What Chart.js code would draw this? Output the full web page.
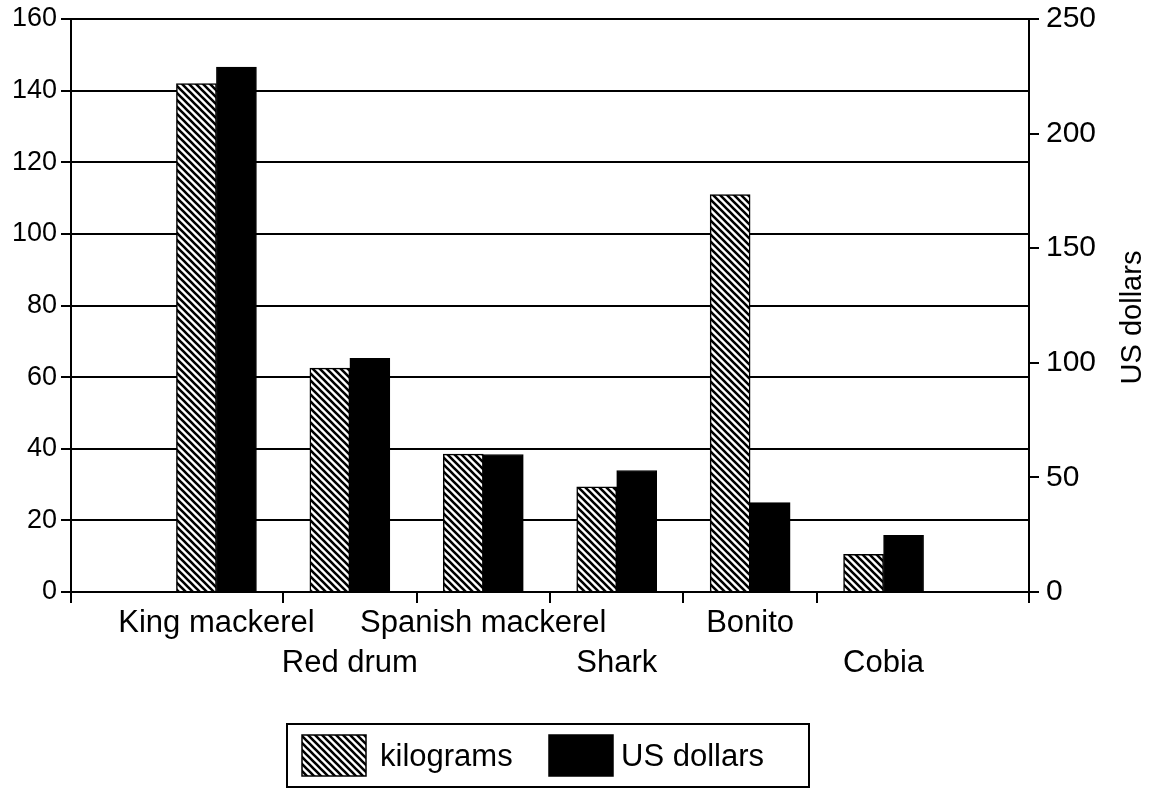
<!DOCTYPE html>
<html>
<head>
<meta charset="utf-8">
<script src="https://cdn.jsdelivr.net/npm/chart.js@4.4.1/dist/chart.umd.min.js"></script>
<style>
  html, body { margin: 0; padding: 0; background: #fff; }
  #wrap { width: 1160px; height: 789px; }
</style>
</head>
<body>
<div id="wrap"><canvas id="chart" width="1160" height="789"></canvas></div>
<script>
// data
const species = ["King mackerel", "Red drum", "Spanish mackerel", "Shark", "Bonito", "Cobia"];
const kilograms = [142, 62.5, 38.5, 29.4, 111, 10.5];
const usDollars = [229, 102, 60, 53, 39, 24.7];
const kgTicks = [0, 20, 40, 60, 80, 100, 120, 140, 160];
const usdTicks = [0, 50, 100, 150, 200, 250];

// labels that sit on the second row under the axis
const lowerRow = ["Red drum", "Shark", "Cobia"];

const FONT = "'Liberation Sans', Arial, Helvetica, sans-serif";
const xMin = 1 - 1.09;
const xMax = species.length + 1.09;

// diagonal hatch like the print
function makeHatch() {
    const s = 7;
    const c = document.createElement("canvas");
    c.width = s; c.height = s;
    const g = c.getContext("2d");
    g.fillStyle = "#fff";
    g.fillRect(0, 0, s, s);
    g.strokeStyle = "#000";
    g.lineWidth = 2.6;
    g.beginPath();
    for (let k = -1; k <= 1; k++) {
        g.moveTo(k * s - 1, -1);
        g.lineTo(k * s + s + 1, s + 1);
    }
    g.stroke();
    return g.createPattern(c, "repeat");
}

const ctx = document.getElementById("chart").getContext("2d");
const hatch = makeHatch();

// tick positions on the x axis: ends, group centres (labels) and gaps (marks)
const xTickValues = [xMin];
species.forEach(function (name, i) {
    xTickValues.push(i + 1);
    if (i < species.length - 1) xTickValues.push(i + 1.5);
});
xTickValues.push(xMax);

// legend swatch and text positions
const legendSwatchX = [302, 549];
const legendTextX = [380, 621];

const extras = {
    id: "extras",
    afterDraw(chart) {
        const c = chart.ctx;
        const area = chart.chartArea;
        c.save();
        c.fillStyle = "#000";

        // right axis title, reading upwards
        c.font = "29px " + FONT;
        c.textAlign = "center";
        c.textBaseline = "middle";
        c.save();
        c.translate(1133, (area.top + area.bottom) / 2 + 12);
        c.rotate(-Math.PI / 2);
        c.fillText("US dollars", 0, 0);
        c.restore();

        // legend in a frame
        c.font = "31px " + FONT;
        c.textAlign = "left";
        const top = 735, h = 41;
        chart.data.datasets.forEach(function (ds, i) {
            c.fillStyle = ds.backgroundColor;
            c.fillRect(legendSwatchX[i], top, 64, h);
            c.strokeStyle = "#000";
            c.lineWidth = 1.5;
            c.strokeRect(legendSwatchX[i], top, 64, h);
            c.fillStyle = "#000";
            c.fillText(ds.label, legendTextX[i], top + h / 2 + 2);
        });
        c.strokeStyle = "#000";
        c.lineWidth = 2;
        c.strokeRect(287, 724, 522, 63);
        c.restore();
    }
};

new Chart(ctx, {
    type: "bar",
    data: {
        datasets: [{
            label: "kilograms",
            data: kilograms.map(function (v, i) { return { x: i + 1, y: v }; }),
            yAxisID: "yKg",
            backgroundColor: hatch,
            borderColor: "#000",
            borderWidth: 1.5,
            barThickness: 40
        }, {
            label: "US dollars",
            data: usDollars.map(function (v, i) { return { x: i + 1, y: v }; }),
            yAxisID: "yUsd",
            backgroundColor: "#000",
            borderColor: "#000",
            borderWidth: 1,
            barThickness: 40
        }]
    },
    options: {
        responsive: false,
        animation: false,
        layout: { padding: { top: 19, left: 0, right: 0, bottom: 101 } },
        plugins: {
            tooltip: { enabled: false },
            legend: { display: false }
        },
        scales: {
            x: {
                type: "linear",
                offset: false,
                min: xMin,
                max: xMax,
                afterBuildTicks: function (s) {
                    s.ticks = xTickValues.map(function (v) { return { value: v }; });
                },
                afterFit: function (s) {
                    s.height = 96;
                    s.paddingLeft = 0;
                    s.paddingRight = 0;
                },
                ticks: {
                    autoSkip: false,
                    maxRotation: 0,
                    padding: 0,
                    color: "#000",
                    font: { family: FONT, size: 31, lineHeight: 1.3 },
                    callback: function (v) {
                        if (!Number.isInteger(v) || v < 1 || v > species.length) return "";
                        const name = species[v - 1];
                        return lowerRow.includes(name) ? ["", name] : name;
                    }
                },
                grid: {
                    offset: false,
                    drawOnChartArea: false,
                    tickLength: 11,
                    lineWidth: 2,
                    color: function (c) {
                        const v = c.tick ? c.tick.value : 0;
                        return Number.isInteger(v) ? "rgba(0,0,0,0)" : "#000";
                    }
                },
                border: { color: "#000", width: 2 }
            },
            yKg: {
                position: "left",
                min: 0,
                max: 160,
                afterBuildTicks: function (s) {
                    s.ticks = kgTicks.map(function (v) { return { value: v }; });
                },
                afterFit: function (s) {
                    s.width = 71;
                    s.paddingTop = 0;
                    s.paddingBottom = 0;
                },
                ticks: {
                    color: "#000",
                    padding: 4,
                    font: { family: FONT, size: 27 }
                },
                grid: { color: "#000", lineWidth: 2, tickLength: 10 },
                border: { color: "#000", width: 2 }
            },
            yUsd: {
                position: "right",
                min: 0,
                max: 250,
                afterBuildTicks: function (s) {
                    s.ticks = usdTicks.map(function (v) { return { value: v }; });
                },
                afterFit: function (s) {
                    s.width = 131;
                    s.paddingTop = 0;
                    s.paddingBottom = 0;
                },
                ticks: {
                    color: "#000",
                    padding: 7,
                    font: { family: FONT, size: 30 }
                },
                grid: { drawOnChartArea: false, color: "#000", lineWidth: 2, tickLength: 10 },
                border: { color: "#000", width: 2 }
            }
        }
    },
    plugins: [extras]
});
</script>
</body>
</html>
